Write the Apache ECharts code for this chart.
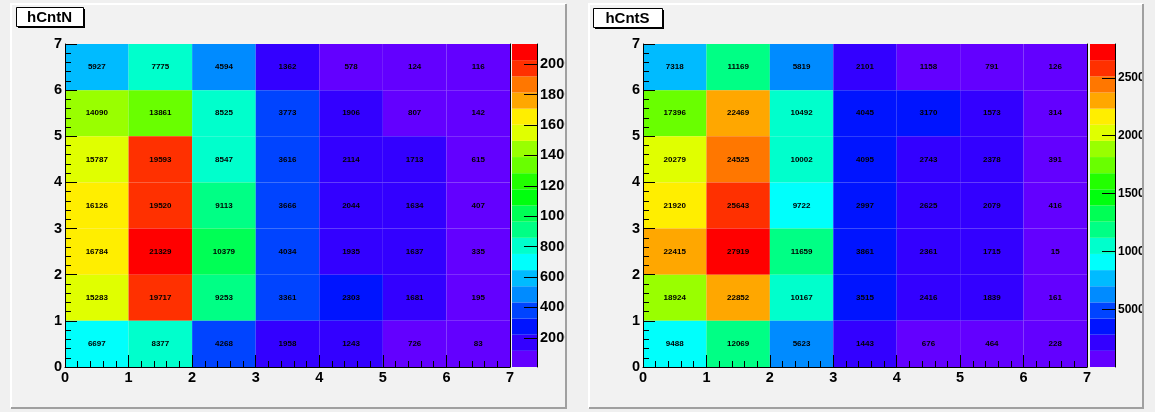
<!DOCTYPE html>
<html><head><meta charset="utf-8">
<script src="https://cdn.jsdelivr.net/npm/echarts@6/dist/echarts.min.js"></script>
<style>html,body{margin:0;padding:0;background:#f0f0f0}#c{width:1155px;height:412px}</style>
</head><body><div id="c"></div>
<script>
// Data (rows listed from top y-bin 6 down to y-bin 0; columns x-bin 0..6)
const xTicks = [0,1,2,3,4,5,6,7];
const hCntN = [
  [5927, 7775, 4594, 1362, 578, 124, 116],
  [14090, 13861, 8525, 3773, 1906, 807, 142],
  [15787, 19593, 8547, 3616, 2114, 1713, 615],
  [16126, 19520, 9113, 3666, 2044, 1634, 407],
  [16784, 21329, 10379, 4034, 1935, 1637, 335],
  [15283, 19717, 9253, 3361, 2303, 1681, 195],
  [6697, 8377, 4268, 1958, 1243, 726, 83]
];
const hCntS = [
  [7318, 11169, 5819, 2101, 1158, 791, 126],
  [17396, 22469, 10492, 4045, 3170, 1573, 314],
  [20279, 24525, 10002, 4095, 2743, 2378, 391],
  [21920, 25643, 9722, 2997, 2625, 2079, 416],
  [22415, 27919, 11659, 3861, 2361, 1715, 15],
  [18924, 22852, 10167, 3515, 2416, 1839, 161],
  [9488, 12069, 5623, 1443, 676, 464, 228]
];
const paletteTicksN = [2000,4000,6000,8000,10000,12000,14000,16000,18000,20000];
const paletteTicksS = [5000,10000,15000,20000,25000];
// ROOT-like palette, 20 contour colours (low -> high)
const palette = ['#6300ff','#3300ff','#0014ff','#0044ff','#008bff','#00bbff','#00fffc','#00ffcc','#00ff85','#00ff55',
                 '#00ff0e','#22ff00','#69ff00','#99ff00','#e0ff00','#ffee00','#ffa700','#ff7700','#ff3000','#ff0000'];
const NDIV = 20;

function toCells(grid){
  const out=[]; const n=grid.length;
  grid.forEach((row,r)=>row.forEach((v,c)=>out.push([c, n-1-r, v])));
  return out;
}
function range(grid){const f=grid.flat();return [Math.min(...f),Math.max(...f)];}
function colorFor(v,zmin,zmax){
  let k=Math.floor(0.01+(v-zmin)*NDIV/(zmax-zmin));
  if(k>=NDIV)k=NDIV-1; if(k<0)k=0; return palette[k];
}
const FONT='Liberation Sans, Arial, Helvetica, sans-serif';

const chart=echarts.init(document.getElementById('c'),null,{renderer:'canvas'});

const pads=[
  {name:'hCntN', data:hCntN, ticks:paletteTicksN, fs:14.5, fsBar:14.5, plot:{left:65,top:44,width:445,height:323}, bar:{left:512,top:44,width:25,height:323}, title:[16,7,67,19]},
  {name:'hCntS', data:hCntS, ticks:paletteTicksS, fs:14.5, fsBar:12, plot:{left:643,top:44,width:444,height:323}, bar:{left:1090,top:44,width:25,height:323}, title:[593,8,69,19]}
];

const grids=[],xAxes=[],yAxes=[],series=[];
pads.forEach((p,i)=>{
  const [zmin,zmax]=range(p.data);
  const gPlot=grids.length; grids.push(Object.assign({outerBoundsMode:'none',containLabel:false},p.plot));
  const gBar=grids.length; grids.push(Object.assign({outerBoundsMode:'none',containLabel:false},p.bar));
  const gAx=grids.length; grids.push({outerBoundsMode:'none',containLabel:false,left:p.bar.left+p.bar.width,top:p.bar.top,width:20,height:p.bar.height});
  const axLabel={fontFamily:FONT,fontWeight:'bold',fontSize:p.fs,color:'#000'};
  xAxes.push({gridIndex:gPlot,type:'value',min:0,max:7,interval:1,z:10,
    axisLine:{show:true,lineStyle:{color:'#000',width:1}},
    axisTick:{show:true,inside:true,length:12,lineStyle:{color:'#000'}},
    minorTick:{show:true,splitNumber:5,length:6,lineStyle:{color:'#000'}},
    splitLine:{show:false},axisLabel:Object.assign({margin:3,formatter:v=>String(v)},axLabel)});
  const xPlot=xAxes.length-1;
  yAxes.push({gridIndex:gPlot,type:'value',min:0,max:7,interval:1,z:10,
    axisLine:{show:true,lineStyle:{color:'#000',width:1}},
    axisTick:{show:true,inside:true,length:12,lineStyle:{color:'#000'}},
    minorTick:{show:true,splitNumber:5,length:6,lineStyle:{color:'#000'}},
    splitLine:{show:false},axisLabel:Object.assign({margin:3,formatter:v=>String(v)},axLabel)});
  const yPlot=yAxes.length-1;
  yAxes.push({gridIndex:gPlot,type:'value',position:'right',min:0,max:7,z:10,
    axisLine:{show:true,lineStyle:{color:'#000'}},axisTick:{show:false},minorTick:{show:false},axisLabel:{show:false},splitLine:{show:false}});
  xAxes.push({gridIndex:gBar,type:'value',min:0,max:1,show:false});
  const xBar=xAxes.length-1;
  yAxes.push({gridIndex:gBar,type:'value',min:zmin,max:zmax,show:false});
  const yBar=yAxes.length-1;
  xAxes.push({gridIndex:gAx,type:'value',min:0,max:1,show:false});
  yAxes.push({gridIndex:gAx,type:'value',position:'left',min:zmin,max:zmax,z:10,
    axisLine:{show:true,lineStyle:{color:'#000'}},
    axisTick:{show:true,inside:false,length:13,customValues:p.ticks,lineStyle:{color:'#000'}},
    axisLabel:Object.assign({inside:true,margin:3,customValues:p.ticks,formatter:v=>String(Math.round(v))},axLabel,{fontSize:p.fsBar}),
    splitLine:{show:false}});

  series.push({type:'custom',xAxisIndex:xPlot,yAxisIndex:yPlot,data:toCells(p.data),z:2,
    renderItem:(params,api)=>{
      const x=api.value(0),y=api.value(1),v=api.value(2);
      const p0=api.coord([x,y+1]),p1=api.coord([x+1,y]);
      return {type:'group',children:[
        {type:'rect',shape:{x:p0[0],y:p0[1],width:p1[0]-p0[0],height:p1[1]-p0[1]},style:{fill:colorFor(v,zmin,zmax)}},
        {type:'text',style:{text:String(v),x:(p0[0]+p1[0])/2,y:(p0[1]+p1[1])/2,align:'center',verticalAlign:'middle',
          font:'bold 8px '+FONT,fill:'#000'}}
      ]};
    }});
  const levels=[]; for(let k=0;k<NDIV;k++) levels.push([zmin+k*(zmax-zmin)/NDIV, zmin+(k+1)*(zmax-zmin)/NDIV, k]);
  series.push({type:'custom',xAxisIndex:xBar,yAxisIndex:yBar,data:levels,z:2,
    renderItem:(params,api)=>{
      const a=api.coord([0,api.value(1)]),b=api.coord([1,api.value(0)]);
      return {type:'rect',shape:{x:a[0],y:a[1],width:b[0]-a[0],height:b[1]-a[1]},style:{fill:palette[api.value(2)]}};
    }});
});

const graphics=[
  {type:'rect',z:-10,shape:{x:11,y:4,width:555,height:404},style:{fill:'#f2f2f2'}},
  {type:'rect',z:-10,shape:{x:589,y:4,width:554,height:404},style:{fill:'#f2f2f2'}},
  {type:'rect',z:100,shape:{x:566,y:0,width:23,height:412},style:{fill:'#f0f0f0'}},
  {type:'rect',z:100,shape:{x:1143,y:0,width:12,height:412},style:{fill:'#f0f0f0'}},
  {type:'polyline',z:101,shape:{points:[[11,408],[11,4],[566,4]]},style:{stroke:'#ffffff',lineWidth:2,fill:null}},
  {type:'polyline',z:101,shape:{points:[[566,4],[566,408],[11,408]]},style:{stroke:'#a0a0a0',lineWidth:2,fill:null}},
  {type:'polyline',z:101,shape:{points:[[589,408],[589,4],[1143,4]]},style:{stroke:'#ffffff',lineWidth:2,fill:null}},
  {type:'polyline',z:101,shape:{points:[[1143,4],[1143,408],[589,408]]},style:{stroke:'#a0a0a0',lineWidth:2,fill:null}}
];
pads.forEach(p=>{
  const [x,y,w,h]=p.title;
  graphics.push({type:'rect',z:50,shape:{x:x+2,y:y+2,width:w,height:h},style:{fill:'#000'}});
  graphics.push({type:'rect',z:51,shape:{x:x+0.5,y:y+0.5,width:w,height:h},style:{fill:'#fff',stroke:'#000',lineWidth:1}});
  graphics.push({type:'text',z:52,style:{text:p.name,x:x+w/2,y:y+h/2+1,align:'center',verticalAlign:'middle',font:'bold 15px '+FONT,fill:'#000'}});
});

chart.setOption({animation:false,backgroundColor:'#f0f0f0',grid:grids,xAxis:xAxes,yAxis:yAxes,series:series,graphic:graphics});
</script></body></html>
